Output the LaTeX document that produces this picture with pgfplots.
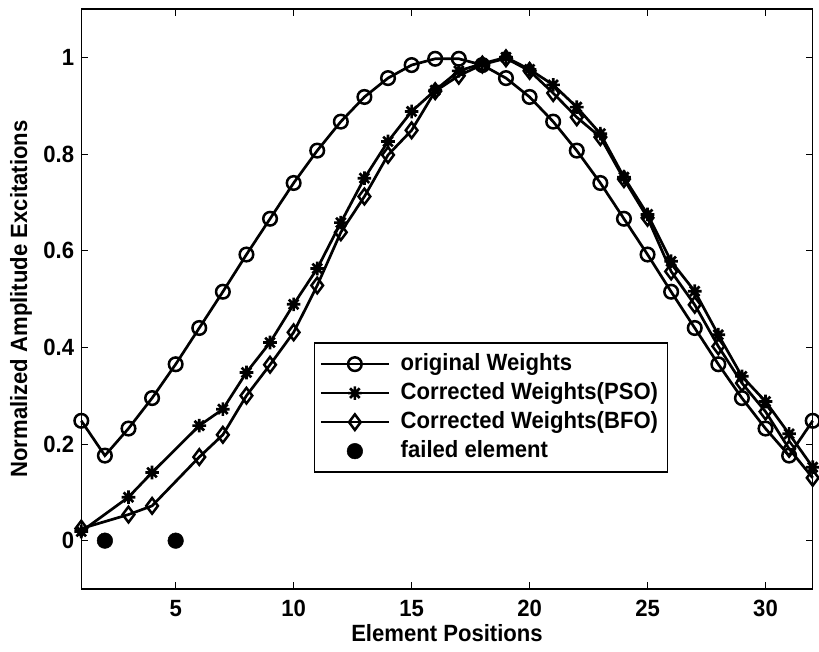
\documentclass[border=0pt]{standalone}
\usepackage{pgfplots}
\pgfplotsset{compat=1.18}
\usepackage{fontspec}
\setmainfont{Liberation Sans}[FakeStretch=0.94]
\pgfdeclareplotmark{mstar}{%
  \pgfpathmoveto{\pgfqpoint{-\pgfplotmarksize}{0pt}}\pgfpathlineto{\pgfqpoint{\pgfplotmarksize}{0pt}}%
  \pgfpathmoveto{\pgfqpoint{0pt}{-\pgfplotmarksize}}\pgfpathlineto{\pgfqpoint{0pt}{\pgfplotmarksize}}%
  \pgfpathmoveto{\pgfqpoint{-0.707\pgfplotmarksize}{-0.707\pgfplotmarksize}}\pgfpathlineto{\pgfqpoint{0.707\pgfplotmarksize}{0.707\pgfplotmarksize}}%
  \pgfpathmoveto{\pgfqpoint{-0.707\pgfplotmarksize}{0.707\pgfplotmarksize}}\pgfpathlineto{\pgfqpoint{0.707\pgfplotmarksize}{-0.707\pgfplotmarksize}}%
  \pgfusepathqstroke}
\begin{document}
\fontsize{23.5bp}{28bp}\selectfont\bfseries
\begin{tikzpicture}
\begin{axis}[
  scale only axis,
  width=731.4bp, height=580bp,
  xmin=1, xmax=32, ymin=-0.1, ymax=1.1,
  xtick={5,10,15,20,25,30},
  ytick={0,0.2,0.4,0.6,0.8,1},
  tick align=inside,
  major tick length=7bp,
  axis line style={line width=1.3bp},
  every tick/.style={line width=0.8bp, black},
  /pgf/number format/assume math mode=true,
  xticklabel style={inner sep=0pt, anchor=north, yshift=-11bp},
  yticklabel style={inner sep=0pt, anchor=east, xshift=-7bp},
  xlabel={Element Positions},
  ylabel={Normalized Amplitude Excitations},
  every axis x label/.style={at={(axis description cs:0.5,-0.060)}, anchor=north, inner sep=0pt},
  every axis y label/.style={at={(axis description cs:-0.067,0.5)}, anchor=south, rotate=90, inner sep=0pt},
  clip=false,
  legend image code/.code={\path (0bp,0bp) (74bp,0bp); \draw[mark repeat=2,mark phase=2,#1] plot coordinates {(0bp,0bp) (34bp,0bp) (68bp,0bp)};},
  legend style={at={(rel axis cs:0.318,0.425)}, anchor=north west, draw=black, line width=1.3bp,
    fill=white, inner xsep=5bp, inner ysep=8bp, row sep=3bp,
    nodes={inner xsep=4.5bp, inner ysep=2bp, text height=17bp, text depth=5bp},
    cells={anchor=west}},
]
\addplot[black, line width=2.7bp, mark=o, mark size=6.8bp, mark options={line width=2.5bp}] coordinates {
(1,0.248) (2,0.176) (3,0.232) (4,0.295) (5,0.365) (6,0.44) (7,0.515) (8,0.592)
(9,0.666) (10,0.74) (11,0.807) (12,0.867) (13,0.918) (14,0.957) (15,0.984) (16,0.997)
(17,0.997) (18,0.984) (19,0.957) (20,0.918) (21,0.867) (22,0.807) (23,0.74) (24,0.666)
(25,0.592) (26,0.515) (27,0.44) (28,0.365) (29,0.295) (30,0.232) (31,0.176) (32,0.248)};
\addlegendentry{original Weights}
\addplot[black, line width=2.7bp, mark=mstar, mark size=6.8bp, mark options={line width=2.7bp}] coordinates {
(1,0.019) (3,0.09) (4,0.141) (6,0.238) (7,0.272) (8,0.348) (9,0.41) (10,0.489)
(11,0.563) (12,0.658) (13,0.75) (14,0.826) (15,0.888) (16,0.932) (17,0.972) (18,0.987)
(19,1.0) (20,0.975) (21,0.943) (22,0.897) (23,0.842) (24,0.752) (25,0.675) (26,0.578)
(27,0.516) (28,0.426) (29,0.34) (30,0.288) (31,0.221) (32,0.152)};
\addlegendentry{Corrected Weights(PSO)}
\addplot[black, line width=2.7bp, mark=diamond, mark size=7.8bp, mark options={line width=2.5bp}] coordinates {
(1,0.025) (3,0.054) (4,0.072) (6,0.173) (7,0.219) (8,0.3) (9,0.364) (10,0.431)
(11,0.528) (12,0.638) (13,0.712) (14,0.798) (15,0.849) (16,0.93) (17,0.962) (18,0.985)
(19,0.998) (20,0.972) (21,0.926) (22,0.876) (23,0.835) (24,0.748) (25,0.668) (26,0.557)
(27,0.488) (28,0.402) (29,0.326) (30,0.267) (31,0.19) (32,0.13)};
\addlegendentry{Corrected Weights(BFO)}
\addplot[black, only marks, mark=*, mark size=7.8bp, mark options={line width=0.5bp, fill=black}] coordinates {
(2,0) (5,0)};
\addlegendentry{failed element}
\end{axis}
\pgfresetboundingbox
\path (-81.3bp,-63bp) rectangle (737.7bp,589bp);
\end{tikzpicture}
\end{document}
